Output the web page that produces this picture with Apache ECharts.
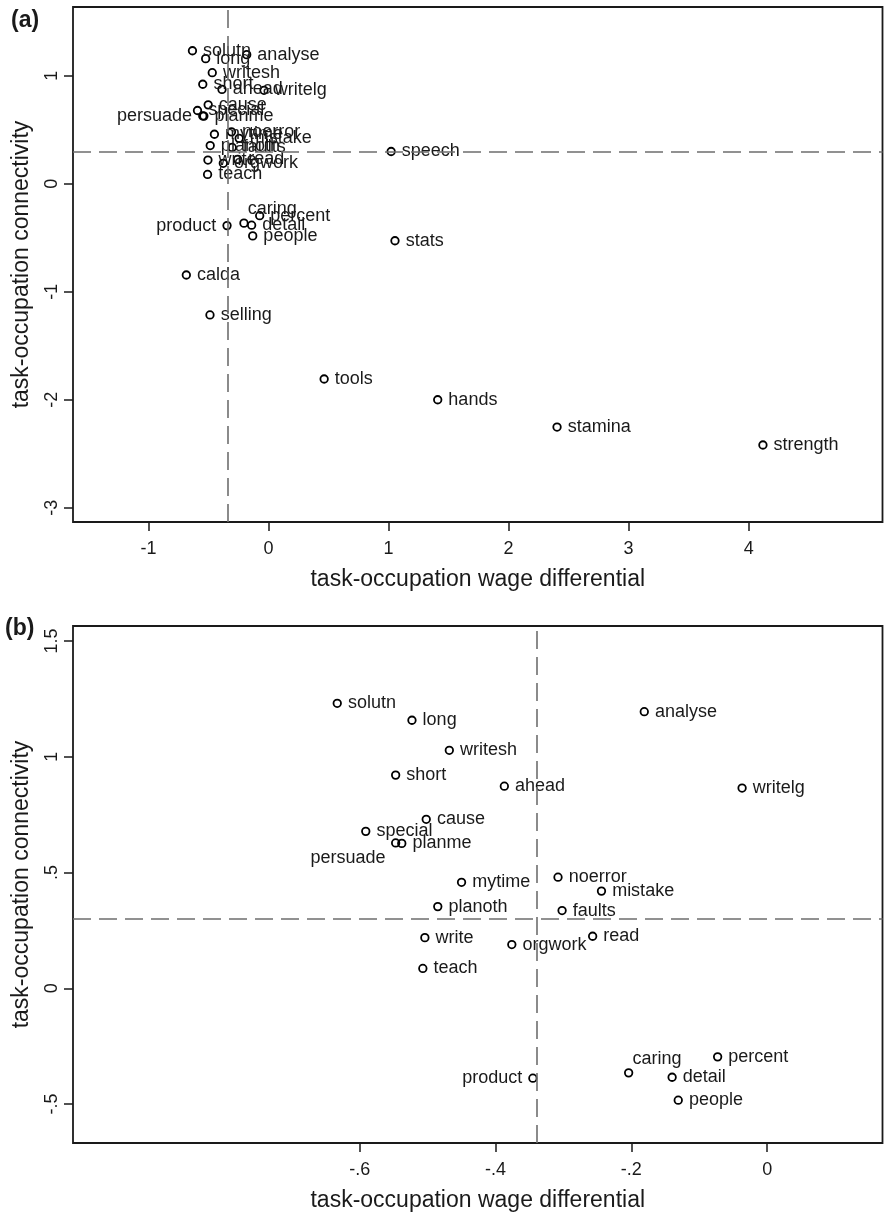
<!DOCTYPE html>
<html>
<head>
<meta charset="utf-8">
<script src="https://cdn.jsdelivr.net/npm/echarts@6/dist/echarts.min.js"></script>
<style>
  html, body { margin: 0; padding: 0; background: #fff; }
  #chart { width: 884px; height: 1215px; }
</style>
</head>
<body>
<div id="chart"></div>
<script>
// task names and their two measures
const tasks = ['solutn', 'long', 'writesh', 'short', 'ahead', 'analyse', 'writelg', 'cause', 'special', 'persuade',
  'planme', 'mytime', 'planoth', 'noerror', 'mistake', 'faults', 'write', 'orgwork', 'read', 'teach',
  'product', 'caring', 'percent', 'detail', 'people', 'speech', 'stats', 'calda', 'selling', 'tools',
  'hands', 'stamina', 'strength'];
const wageDiff = [-0.633, -0.523, -0.468, -0.547, -0.387, -0.181, -0.037, -0.502, -0.591, -0.547,
  -0.538, -0.450, -0.485, -0.308, -0.244, -0.302, -0.504, -0.376, -0.257, -0.507,
  -0.345, -0.204, -0.073, -0.140, -0.131, 1.022, 1.054, -0.684, -0.487, 0.464,
  1.41, 2.404, 4.119];
const connectivity = [1.231, 1.158, 1.028, 0.921, 0.873, 1.195, 0.865, 0.730, 0.678, 0.628,
  0.626, 0.458, 0.353, 0.480, 0.420, 0.336, 0.219, 0.189, 0.225, 0.086,
  -0.388, -0.365, -0.296, -0.384, -0.483, 0.298, -0.528, -0.845, -1.215, -1.808,
  -2.0, -2.253, -2.419];

// reference lines
const refWage = -0.345;
const refConn = 0.3;

// tick values
const ticksAX = [-1, 0, 1, 2, 3, 4];
const ticksAY = [-3, -2, -1, 0, 1];
const ticksBX = [-0.6, -0.4, -0.2, 0];
const ticksBY = [-0.5, 0, 0.5, 1, 1.5];

// axis ranges of the two panels
const rangeA = { x: [-1.628, 5.115], y: [-3.132, 1.636] };
const rangeB = { x: [-1.022, 0.1697], y: [-0.668, 1.565] };

const font = 'Liberation Sans, Arial, Helvetica, sans-serif';
const ink = '#1a1a1a';

function fmt(v) {
  if (v === 0) return '0';
  return String(v).replace('0.', '.');
}

// labels that do not sit to the right of their point
function labelFor(name, panel) {
  if (name === 'product') return { position: 'left', distance: 6 };
  if (name === 'caring') return { position: [8.5, -9.5], align: 'left', verticalAlign: 'middle' };
  if (name === 'persuade') {
    if (panel === 'a') return { position: 'left', distance: 6 };
    return { position: [-5.5, 19.5], align: 'right', verticalAlign: 'middle' };
  }
  return null;
}

function points(panel, range) {
  const out = [];
  tasks.forEach(function (name, i) {
    const x = wageDiff[i], y = connectivity[i];
    if (x < range.x[0] || x > range.x[1] || y < range.y[0] || y > range.y[1]) return;
    const item = { name: name, value: [x, y] };
    const lab = labelFor(name, panel);
    if (lab) item.label = lab;
    out.push(item);
  });
  return out;
}

function xAxis(idx, range, ticks) {
  return {
    type: 'value', gridIndex: idx, min: range.x[0], max: range.x[1],
    name: 'task-occupation wage differential', nameLocation: 'middle', nameGap: 46,
    nameTextStyle: { fontFamily: font, fontSize: 23, color: ink },
    axisLine: { show: false, onZero: false },
    axisTick: { show: true, customValues: ticks, length: 9, lineStyle: { color: ink, width: 1.5 } },
    axisLabel: { customValues: ticks, formatter: fmt, margin: 18, fontFamily: font, fontSize: 18, color: ink },
    splitLine: { show: false }
  };
}

function yAxis(idx, range, ticks) {
  return {
    type: 'value', gridIndex: idx, min: range.y[0], max: range.y[1],
    name: 'task-occupation connectivity', nameLocation: 'middle', nameGap: 40,
    nameTextStyle: { fontFamily: font, fontSize: 23, color: ink },
    axisLine: { show: false, onZero: false },
    axisTick: { show: true, customValues: ticks, length: 9, lineStyle: { color: ink, width: 1.5 } },
    axisLabel: { customValues: ticks, formatter: fmt, rotate: 90, margin: 12, fontFamily: font, fontSize: 18, color: ink },
    splitLine: { show: false }
  };
}

function scatter(idx, panel, range) {
  return {
    type: 'scatter', xAxisIndex: idx, yAxisIndex: idx,
    symbol: 'circle', symbolSize: 7.5,
    itemStyle: { color: 'rgba(0,0,0,0)', borderColor: '#000', borderWidth: 1.8, opacity: 1 },
    label: {
      show: true, position: 'right', distance: 6, formatter: '{b}',
      fontFamily: font, fontSize: 18, color: ink, opacity: 1
    },
    labelLayout: { hideOverlap: false },
    emphasis: { disabled: true },
    data: points(panel, range),
    markLine: {
      silent: true, symbol: 'none', animation: false,
      label: { show: false },
      lineStyle: { color: '#6e6e6e', width: 1.6, type: [18, 8], opacity: 1 },
      data: [{ xAxis: refWage }, { yAxis: refConn }]
    },
    z: 3
  };
}

const chart = echarts.init(document.getElementById('chart'));
chart.setOption({
  animation: false,
  backgroundColor: '#fff',
  title: [
    { text: '(a)', left: 6, top: 4, textStyle: { fontFamily: font, fontSize: 23, fontWeight: 'bold', color: ink } },
    { text: '(b)', left: 0, top: 612, textStyle: { fontFamily: font, fontSize: 23, fontWeight: 'bold', color: ink } }
  ],
  grid: [
    { left: 73, top: 7, right: 1.5, height: 515, show: true, borderColor: ink, borderWidth: 1.8, backgroundColor: 'transparent' },
    { left: 73, top: 626, right: 1.5, height: 517, show: true, borderColor: ink, borderWidth: 1.8, backgroundColor: 'transparent' }
  ],
  xAxis: [xAxis(0, rangeA, ticksAX), xAxis(1, rangeB, ticksBX)],
  yAxis: [yAxis(0, rangeA, ticksAY), yAxis(1, rangeB, ticksBY)],
  series: [scatter(0, 'a', rangeA), scatter(1, 'b', rangeB)]
});
</script>
</body>
</html>
